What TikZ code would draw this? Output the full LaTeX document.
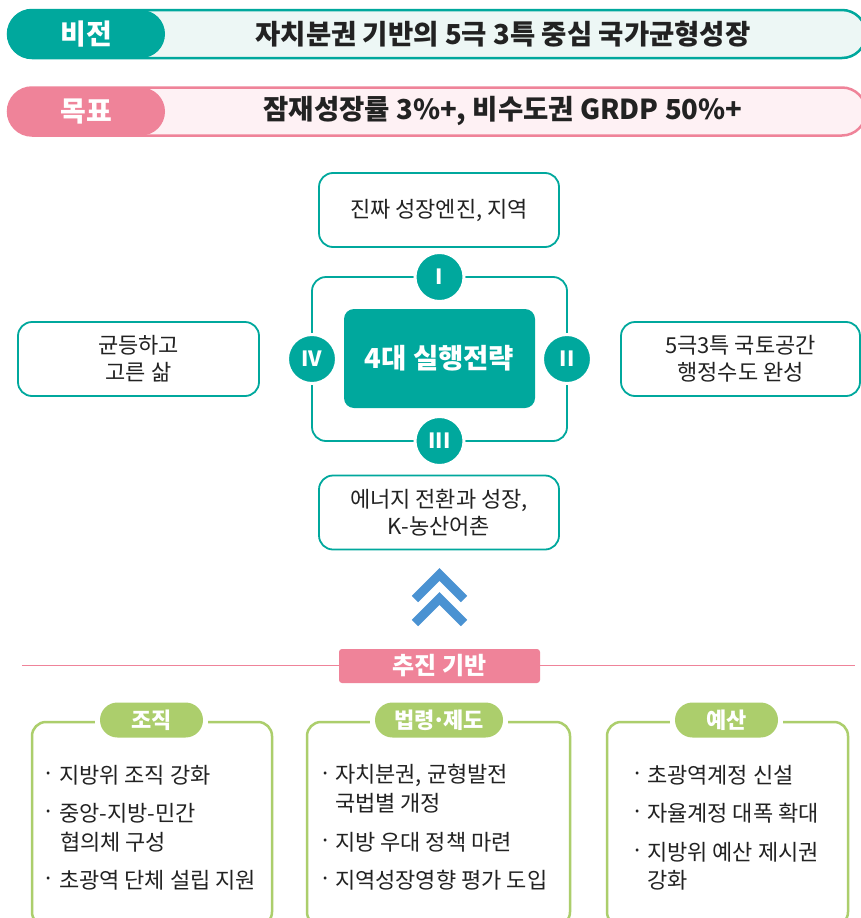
\documentclass[tikz,border=0pt]{standalone}
\usepackage{fontspec}
\setmainfont{Noto Sans CJK KR}
\definecolor{teal}{RGB}{0,168,157}
\definecolor{mint}{RGB}{237,247,245}
\definecolor{pinkc}{RGB}{239,131,153}
\definecolor{pinkl}{RGB}{254,241,244}
\definecolor{greenc}{RGB}{172,206,108}
\definecolor{bluec}{RGB}{74,146,210}
\definecolor{txt}{RGB}{34,34,34}
\newcommand\fsz[2]{\fontsize{#1}{#2}\selectfont}
\begin{document}
\begin{tikzpicture}[x=1pt,y=-1pt,
  every node/.style={inner sep=0pt,outer sep=0pt},
  banner/.style={draw=#1,line width=2.5,rounded corners=24,minimum width=858,minimum height=48},
  bpill/.style={fill=#1,rounded corners=24,minimum width=157,minimum height=48,text=white,font=\fsz{28}{32}\bfseries},
  btext/.style={text=txt,font=\fsz{27.5}{32}\bfseries},
  wbox/.style={draw=teal,line width=1.8,rounded corners=14,fill=white,align=center,text=txt,font=\fsz{22}{27},minimum width=240,minimum height=74},
  roman/.style={circle,fill=teal,draw=white,line width=3,minimum size=49,text=white,font=\fsz{21}{24}\bfseries},
  gbox/.style={draw=greenc,line width=2.5,rounded corners=14,minimum height=204},
  gpill/.style={fill=greenc,rounded corners=17.5,minimum height=35,text=white,font=\fsz{22}{24}\bfseries},
  gap/.style={fill=white,minimum height=35},
  bul/.style={text=txt,font=\fsz{22}{24}},
  item/.style={text=txt,font=\fsz{22}{24},anchor=west},
  chev/.style={draw=bluec,line width=9,line join=miter}]
\clip (0,0) rectangle (861,918);
\fill[white] (0,0) rectangle (861,918);
% vision banner
\node[banner=teal,fill=mint] (vbar) at (437,34) {};
\node[bpill=teal] (vlab) at (86.5,34) {비전};
\node[btext] (vtext) at (503,34) {자치분권 기반의 5극 3특 중심 국가균형성장};
% goal banner
\node[banner=pinkc,fill=pinkl] (gbar) at (437,111.5) {};
\node[bpill=pinkc] (glab) at (86.5,111.5) {목표};
\node[btext] (gtext) at (503,111.5) {잠재성장률 3\%+, 비수도권 GRDP 50\%+};
% strategy frame
\node[draw=teal,line width=1.8,rounded corners=14,minimum width=255,minimum height=164] (frame) at (439.5,359) {};
\node[fill=teal,rounded corners=10,minimum width=191,minimum height=99,text=white,font=\fsz{27.5}{30}\bfseries] (core) at (439.5,358.5) {4대 실행전략};
\node[roman] (r1) at (frame.north) {I};
\node[roman] (r2) at (frame.east) {II};
\node[roman] (r3) at (frame.south) {III};
\node[roman] (r4) at (frame.west) {IV};
% outer boxes
\node[wbox] (top) at (439,210) {진짜 성장엔진, 지역};
\node[wbox] (bot) at (439,512.5) {에너지 전환과 성장,\\K-농산어촌};
\node[wbox,minimum width=241] (left) at (138.5,359) {균등하고\\고른 삶};
\node[wbox,minimum width=239] (right) at (740.5,359) {5극3특 국토공간\\행정수도 완성};
% chevrons
\coordinate (c1a) at (415,599); \coordinate (c1b) at (439.5,574.5); \coordinate (c1c) at (464,599);
\coordinate (c2a) at (415,623); \coordinate (c2b) at (439.5,598.5); \coordinate (c2c) at (464,623);
\draw[chev] (c1a) -- (c1b) -- (c1c);
\draw[chev] (c2a) -- (c2b) -- (c2c);
% divider
\coordinate (dl) at (22,665.5); \coordinate (dr) at (855,665.5);
\draw[pinkc,line width=1.2] (dl) -- (dr);
\node[fill=pinkc,rounded corners=3,minimum width=201,minimum height=34,text=white,font=\fsz{24}{26}\bfseries] (base) at (439.5,666) {추진 기반};
% bottom boxes
\node[gbox,minimum width=240] (b1) at (152,824) {};
\node[gbox,minimum width=263] (b2) at (438.5,824) {};
\node[gbox,minimum width=241] (b3) at (727.5,824) {};
\node[gap,minimum width=113] (g1) at (151.5,720) {};
\node[gap,minimum width=138] (g2) at (439,720) {};
\node[gap,minimum width=113] (g3) at (726.5,720) {};
\node[gpill,minimum width=103] (p1) at (151.5,720) {조직};
\node[gpill,minimum width=128] (p2) at (439,720) {법령\kern-0.12em·\kern-0.12em제도};
\node[gpill,minimum width=103] (p3) at (726.5,720) {예산};
% box 1 items
\node[bul] (b1d1) at (49,777) {·};
\node[item] (b1t1) at (59,775) {지방위 조직 강화};
\node[bul] (b1d2) at (49,815) {·};
\node[item] (b1t2) at (59,813) {중앙-지방-민간};
\node[item] (b1t3) at (60,842) {협의체 구성};
\node[bul] (b1d4) at (49,882) {·};
\node[item] (b1t4) at (59,880) {초광역 단체 설립 지원};
% box 2 items
\node[bul] (b2d1) at (326,777) {·};
\node[item] (b2t1) at (335,775) {자치분권, 균형발전};
\node[item] (b2t2) at (335,803) {국법별 개정};
\node[bul] (b2d3) at (326,844) {·};
\node[item] (b2t3) at (335,842) {지방 우대 정책 마련};
\node[bul] (b2d4) at (326,882) {·};
\node[item] (b2t4) at (335,880) {지역성장영향 평가 도입};
% box 3 items
\node[bul] (b3d1) at (638,777) {·};
\node[item] (b3t1) at (647,775) {초광역계정 신설};
\node[bul] (b3d2) at (638,815) {·};
\node[item] (b3t2) at (647,813) {자율계정 대폭 확대};
\node[bul] (b3d3) at (638,854) {·};
\node[item] (b3t3) at (647,852) {지방위 예산 제시권};
\node[item] (b3t4) at (647,880) {강화};
\end{tikzpicture}
\end{document}
